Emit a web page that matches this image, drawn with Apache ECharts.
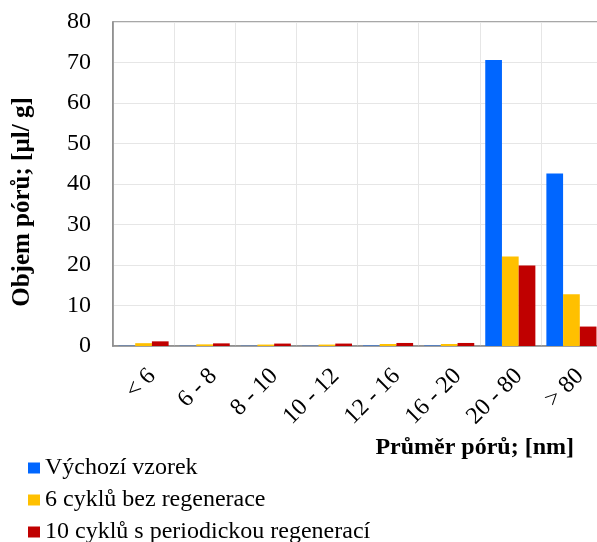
<!DOCTYPE html>
<html>
<head>
<meta charset="utf-8">
<script src="https://cdn.jsdelivr.net/npm/echarts@6/dist/echarts.min.js"></script>
<style>html,body{margin:0;padding:0;background:#fff}#c{width:597px;height:542px}</style>
</head>
<body>
<div id="c"></div>
<script>
const categories = ['< 6', '6 - 8', '8 - 10', '10 - 12', '12 - 16', '16 - 20', '20 - 80', '> 80'];
const seriesNames = ['Výchozí vzorek', '6 cyklů bez regenerace', '10 cyklů s periodickou regenerací'];
const vychozi = [0.05, 0.05, 0.05, 0.05, 0.1, 0.1, 70.6, 42.6];
const bezRegenerace = [0.7, 0.4, 0.35, 0.35, 0.5, 0.5, 22.1, 12.8];
const sRegeneraci = [1.15, 0.65, 0.6, 0.6, 0.75, 0.75, 19.85, 4.8];
const yTicks = [0, 10, 20, 30, 40, 50, 60, 70, 80];

const colors = ['#0066FF', '#FFC000', '#C00000'];
const font = 'Liberation Serif, Times New Roman, serif';
const chart = echarts.init(document.getElementById('c'));
chart.setOption({
  animation: false,
  textStyle: { fontFamily: font },
  grid: { left: 113, width: 489, top: 22, height: 324, outerBoundsMode: 'none', containLabel: false,
    show: true, borderColor: '#8a8a8a', borderWidth: 1.5 },
  legend: {
    orient: 'vertical', left: 28, top: 456, itemWidth: 12, itemHeight: 11, itemGap: 8, padding: 0,
    height: 90,
    icon: 'rect',
    textStyle: { fontFamily: font, fontSize: 24, color: '#000', lineHeight: 24 },
    data: seriesNames
  },
  xAxis: {
    type: 'category', data: categories,
    name: 'Průměr pórů; [nm]', nameLocation: 'end', nameGap: -28,
    nameTextStyle: { fontFamily: font, fontSize: 24, fontWeight: 'bold', color: '#000', align: 'right', verticalAlign: 'top', padding: [90, 0, 0, 0] },
    axisLine: { lineStyle: { color: '#8a8a8a', width: 1.5 } },
    axisTick: { show: false },
    axisLabel: { rotate: 45, fontFamily: font, fontSize: 24, color: '#000', margin: 18, verticalAlign: 'top' },
    splitLine: { show: true, lineStyle: { color: '#e6e6e6', width: 1 } }
  },
  yAxis: {
    type: 'value', min: yTicks[0], max: yTicks[yTicks.length - 1], interval: 10,
    name: 'Objem pórů; [µl/ g]', nameLocation: 'middle', nameGap: 78,
    nameTextStyle: { fontFamily: font, fontSize: 25, fontWeight: 'bold', color: '#000', padding: [0, 36, 0, 0] },
    axisLine: { show: true, lineStyle: { color: '#8a8a8a', width: 1.5 } },
    axisTick: { show: false },
    axisLabel: { fontFamily: font, fontSize: 24, color: '#000', margin: 22 },
    splitLine: { lineStyle: { color: '#e6e6e6', width: 1 } }
  },
  series: [vychozi, bezRegenerace, sRegeneraci].map((d, i) => ({
    type: 'bar', name: seriesNames[i], data: d,
    itemStyle: { color: colors[i] },
    barGap: '0%', barCategoryGap: '18%'
  }))
});
</script>
</body>
</html>
